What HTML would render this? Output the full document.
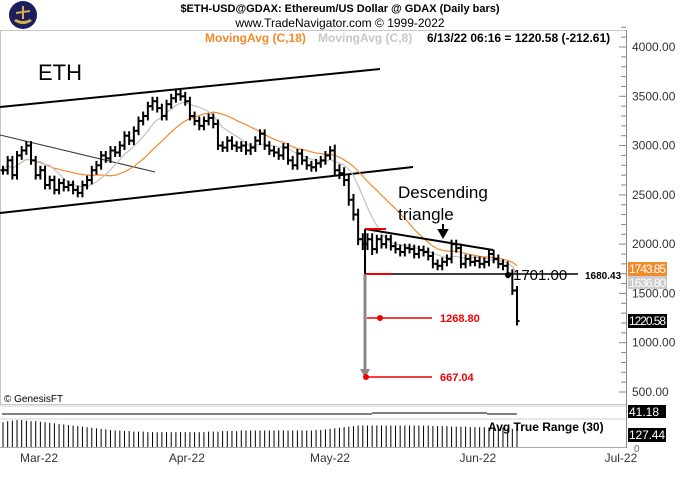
<!DOCTYPE html>
<html><head><meta charset="utf-8">
<style>
body{margin:0;background:#fff;width:680px;height:480px;overflow:hidden;font-family:"Liberation Sans",sans-serif}
svg text{font-family:"Liberation Sans",sans-serif}
</style></head>
<body>
<svg id="chart" width="680" height="480" viewBox="0 0 680 480" xmlns="http://www.w3.org/2000/svg">
<g>
<circle cx="23" cy="15" r="14" fill="#1b1f5e"/>
<path d="M14 21 Q23 27 32 21 L30 19 Q23 23 16 19Z" fill="#d8b04a"/>
<path d="M22 6 L24 6 L24 19 L22 19Z M16 12 L30 10 L30 12 L16 14Z" fill="#d8b04a"/>
</g>
<text x="340" y="12" font-size="11" font-weight="bold" text-anchor="middle">$ETH-USD@GDAX:  Ethereum/US Dollar @ GDAX  (Daily bars)</text>
<text x="340" y="27" font-size="12" text-anchor="middle">www.TradeNavigator.com © 1999-2022</text>
<rect x="0.5" y="30.5" width="626" height="374" fill="none" stroke="#c8c8c8"/>
<text x="205" y="42" font-size="12" font-weight="bold" fill="#f28a2a">MovingAvg (C,18)</text>
<text x="318" y="42" font-size="12" font-weight="bold" fill="#c8c8c8">MovingAvg (C,8)</text>
<text x="427" y="42" font-size="12" font-weight="bold" fill="#000">6/13/22 06:16 = 1220.58 (-212.61)</text>
<line x1="626.5" y1="30" x2="626.5" y2="448" stroke="#888"/>
<g id="yaxis"></g>
<g id="marks"></g>
<text x="38" y="80" font-size="22">ETH</text>
<text x="398" y="198" font-size="17">Descending</text>
<text x="398" y="220" font-size="17">triangle</text>
<path d="M443 224 L443 234 M439 230 L443 237 L447 230Z" stroke="#000" stroke-width="2" fill="#000"/>
<text x="4" y="402" font-size="10">© GenesisFT</text>
<rect x="0" y="405" width="626" height="2" fill="#e8e8e8"/>
<rect x="0" y="418" width="626" height="2" fill="#e8e8e8"/>
<line x1="2" y1="414" x2="372" y2="414" stroke="#000"/>
<line x1="372" y1="413" x2="487" y2="413" stroke="#000"/>
<line x1="487" y1="414" x2="517" y2="414" stroke="#000"/>
<rect x="628" y="405" width="38" height="13" fill="#000"/>
<text x="629" y="416" font-size="12" fill="#fff">41.18</text>
<g id="atr"></g>
<text x="488" y="431" font-size="12" font-weight="bold">Avg True Range (30)</text>
<rect x="628" y="428" width="38" height="14" fill="#000"/>
<text x="629" y="439" font-size="12" fill="#fff" textLength="36">127.44</text>
<text x="634" y="452" font-size="10" fill="#666">0</text>
<line x1="0" y1="447.5" x2="626" y2="447.5" stroke="#aaa"/>
<g id="xaxis"></g>
</svg>
<script>
const closes=[2750,2850,2700,2900,2950,3000,2850,2700,2750,2600,2650,2550,2620,2580,2600,2550,2520,2600,2650,2750,2800,2900,2870,2950,2930,3000,3100,3050,3150,3250,3300,3400,3450,3380,3300,3420,3480,3520,3500,3450,3300,3250,3200,3250,3280,3220,3000,2980,3050,3000,2980,3000,2950,2980,3050,3120,3000,2950,2930,2900,2980,2850,2800,2920,2850,2800,2780,2820,2850,2900,2950,2750,2720,2650,2450,2300,2050,2000,2050,1950,2050,2000,2050,1980,1950,1920,1960,1950,1900,1940,1920,1880,1800,1780,1820,1850,2000,1960,1800,1850,1820,1830,1800,1820,1900,1850,1800,1780,1700,1530,1220];
const atrVals=[140,142,143,144,144,143,142,142,141,140,139,138,137,136,135,134,133,132,131,130,129,128,127,126,125,125,124,124,123,123,123,122,122,122,122,122,122,122,122,122,122,122,122,122,123,123,123,124,124,124,124,125,125,125,125,125,125,125,125,125,125,125,125,125,125,125,125,126,126,127,128,129,130,131,132,133,134,134,134,134,134,134,134,134,134,134,134,134,134,134,134,134,133,133,133,133,132,132,132,132,131,131,131,131,130,130,130,130,129,128,127];
const yTicks=[4000,3500,3000,2500,2000,1500,1000,500];
const monthLabels=["Mar-22","Apr-22","May-22","Jun-22","Jul-22"];
const monthDay=[0,31,61,92,122];
const NS="http://www.w3.org/2000/svg";
const y=v=>392-(v-500)*0.09857;
const x=i=>3+i*(514/(closes.length-1));
const mx=d=>39+d*4.77;
function el(t,a,p){const e=document.createElementNS(NS,t);for(const k in a)e.setAttribute(k,a[k]);(p||document.getElementById('marks')).appendChild(e);return e;}
const ya=document.getElementById('yaxis');
for(let v=500;v<=4200;v+=100){el('line',{x1:v%500?621:619,x2:626,y1:y(v),y2:y(v),stroke:'#888'},ya);}
yTicks.forEach(v=>{const t=el('text',{x:632,y:y(v)+4,'font-size':12,fill:'#333'},ya);t.textContent=v.toFixed(2);

});
const xa=document.getElementById('xaxis');
monthLabels.forEach((m,i)=>{const t=el('text',{x:mx(monthDay[i]),y:462,'font-size':12,fill:'#333','text-anchor':'middle'},xa);t.textContent=m;

});
const L=(a,b,c,d,s,w,n)=>{const e=el('line',{x1:a,y1:b,x2:c,y2:d,stroke:s,'stroke-width':w});

return e;};
L(0,107,380,69,'#000',2,'upper-channel-line');
L(0,213,413,167,'#000',2,'lower-channel-line');
L(0,135,155,172,'#333',1,'minor-trend-line');
function sma(n){return closes.map((c,i)=>{const s=closes.slice(Math.max(0,i-n+1),i+1);return s.reduce((a,b)=>a+b,0)/s.length;});}
const ma18=sma(18),ma8=sma(8);
const p18=el('path',{d:ma18.map((v,i)=>(i?'L':'M')+x(i)+' '+y(v)).join(''),fill:'none',stroke:'#f28a2a','stroke-width':1.2});


const p8=el('path',{d:ma8.map((v,i)=>(i?'L':'M')+x(i)+' '+y(v)).join(''),fill:'none',stroke:'#c0c0c0','stroke-width':1.2});


closes.forEach((c,i)=>{const o=i?closes[i-1]:c;const pad=i>70&&i<80?60:45;const hi=Math.max(o,c)+pad,lo=Math.min(o,c)-pad;const X=x(i);
const g=el('g',{stroke:'#000','stroke-width':2});


el('line',{x1:X,x2:X,y1:y(hi),y2:y(lo)},g);el('line',{x1:X-2.5,x2:X,y1:y(o),y2:y(o)},g);el('line',{x1:X,x2:X+2.5,y1:y(c),y2:y(c)},g);});
L(365,229,493,250,'#000',2,'triangle-top-line');
L(365,229,386,229,'#e00',2,'triangle-top-red');
L(365,274,578,274,'#000',1.5,'support-line');
L(365,274,392,274,'#e00',2,'support-red');
L(365,229,365,274,'#000',2,'triangle-height');
L(365,274,365,372,'#888',3,'target-arrow');
el('path',{d:'M360 369 L365 378 L370 369Z',fill:'#888'});
L(367,318,432,318,'#e00',1.5,'target-1268-line');
L(367,377,432,377,'#e00',1.5,'target-667-line');
el('circle',{cx:380,cy:318,r:3,fill:'#e00'});el('circle',{cx:366,cy:377,r:3,fill:'#e00'});el('circle',{cx:508,cy:275,r:3,fill:'#000'});
const T=(tx,ty,s,f,fw,txt,n,tl)=>{const a={x:tx,y:ty,'font-size':s,fill:f,'font-weight':fw};if(tl)a.textLength=tl;const e=el('text',a);e.textContent=txt;

};
T(513,280,15,'#000','normal','1701.00','label-1701');
T(585,279,10,'#000','bold','1680.43','label-1680');
T(440,322,11,'#e00','bold','1268.80','label-1268');
T(440,381,11,'#e00','bold','667.04','label-667');
el('rect',{x:628,y:262,width:39,height:14,fill:'#f28a2a'});T(629,273,12,'#fff','normal','1743.85','box-ma18',37);
el('rect',{x:628,y:276,width:39,height:13,fill:'#ccc'});T(629,287,12,'#fff','normal','1636.80','box-ma8',37);
el('rect',{x:628,y:314,width:39,height:14,fill:'#000'});T(629,325,12,'#fff','normal','1220.58','box-last',37);
const atr=document.getElementById('atr');
atrVals.forEach((v,i)=>{const l=el('line',{x1:x(i),x2:x(i),y1:447-(v-95)*0.55,y2:447,stroke:'#000','stroke-width':1},atr);

});
</script>
</body></html>
